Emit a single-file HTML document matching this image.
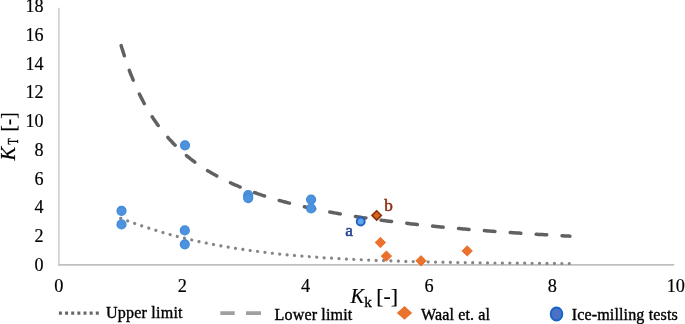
<!DOCTYPE html>
<html><head><meta charset="utf-8"><title>Chart</title>
<style>
html,body{margin:0;padding:0;background:#fff;}
svg{display:block;font-family:"Liberation Serif", serif;}
text{fill:#000;stroke:#000;stroke-width:0.18px;}
.lg text{stroke-width:0.36px;}
</style></head><body>
<svg width="685" height="324" viewBox="0 0 685 324">
<rect width="685" height="324" fill="#fff"/>
<!-- axes -->
<path d="M58.9,7.8 V265.8" fill="none" stroke="#b8b8b8" stroke-width="1.1"/>
<path d="M58.4,264.9 H674.3" fill="none" stroke="#c0c0c0" stroke-width="1.8"/>

<g font-size="18.1" text-anchor="end">
<text x="43.6" y="270.6">0</text>
<text x="43.6" y="241.9">2</text>
<text x="43.6" y="213.2">4</text>
<text x="43.6" y="184.5">6</text>
<text x="43.6" y="155.8">8</text>
<text x="43.6" y="127.1">10</text>
<text x="43.6" y="98.4">12</text>
<text x="43.6" y="69.7">14</text>
<text x="43.6" y="41.0">16</text>
<text x="43.6" y="12.3">18</text>
</g>
<g font-size="18.3" text-anchor="middle">
<text x="58.8" y="291.6">0</text>
<text x="182.2" y="291.6">2</text>
<text x="305.6" y="291.6">4</text>
<text x="429.0" y="291.6">6</text>
<text x="552.4" y="291.6">8</text>
<text x="675.8" y="291.6">10</text>
</g>
<text font-size="20.5" x="350.4" y="302.6" font-style="italic">K</text>
<text font-size="15" x="364.2" y="306.6" style="stroke-width:0.35px">k</text>
<text font-size="21.8" x="376.2" y="303.0">[-]</text>
<g transform="translate(0,0)">
<text font-size="20.5" transform="translate(14.9,160.4) rotate(-90)" font-style="italic">K</text>
<text font-size="15.2" transform="translate(18.3,144.6) rotate(-90) scale(0.66,1)" style="stroke-width:0.4px">T</text>
<text font-size="21.8" transform="translate(15.1,131.6) rotate(-90) scale(0.89,1)">[-]</text>
</g>
<path d="M120.7,218.3 L122.2,218.9 L123.7,219.5 L125.2,220.0 L126.7,220.6 L128.2,221.1 L129.7,221.7 L131.2,222.2 L132.8,222.8 L134.3,223.3 L135.8,223.8 L137.3,224.3 L138.8,224.9 L140.3,225.4 L141.8,225.9 L143.3,226.4 L144.8,226.9 L146.3,227.4 L147.8,227.9 L149.3,228.3 L150.8,228.8 L152.3,229.3 L153.8,229.8 L155.3,230.2 L156.9,230.7 L158.4,231.1 L159.9,231.6 L161.4,232.0 L162.9,232.5 L164.4,232.9 L165.9,233.3 L167.4,233.7 L168.9,234.2 L170.4,234.6 L171.9,235.0 L173.4,235.4 L174.9,235.8 L176.4,236.2 L177.9,236.6 L179.4,237.0 L181.0,237.3 L182.5,237.7 L184.0,238.1 L185.5,238.5 L187.0,238.8 L188.5,239.2 L190.0,239.5 L191.5,239.9 L193.0,240.2 L194.5,240.6 L196.0,240.9 L197.5,241.2 L199.0,241.6 L200.5,241.9 L202.0,242.2 L203.6,242.5 L205.1,242.8 L206.6,243.1 L208.1,243.5 L209.6,243.8 L211.1,244.0 L212.6,244.3 L214.1,244.6 L215.6,244.9 L217.1,245.2 L218.6,245.5 L220.1,245.7 L221.6,246.0 L223.1,246.3 L224.6,246.5 L226.1,246.8 L227.7,247.1 L229.2,247.3 L230.7,247.6 L232.2,247.8 L233.7,248.1 L235.2,248.3 L236.7,248.5 L238.2,248.8 L239.7,249.0 L241.2,249.2 L242.7,249.4 L244.2,249.7 L245.7,249.9 L247.2,250.1 L248.7,250.3 L250.2,250.5 L251.8,250.7 L253.3,250.9 L254.8,251.1 L256.3,251.3 L257.8,251.5 L259.3,251.7 L260.8,251.9 L262.3,252.1 L263.8,252.3 L265.3,252.4 L266.8,252.6 L268.3,252.8 L269.8,253.0 L271.3,253.1 L272.8,253.3 L274.4,253.5 L275.9,253.6 L277.4,253.8 L278.9,254.0 L280.4,254.1 L281.9,254.3 L283.4,254.4 L284.9,254.6 L286.4,254.7 L287.9,254.9 L289.4,255.0 L290.9,255.2 L292.4,255.3 L293.9,255.4 L295.4,255.6 L296.9,255.7 L298.5,255.8 L300.0,256.0 L301.5,256.1 L303.0,256.2 L304.5,256.3 L306.0,256.5 L307.5,256.6 L309.0,256.7 L310.5,256.8 L312.0,256.9 L313.5,257.0 L315.0,257.1 L316.5,257.2 L318.0,257.4 L319.5,257.5 L321.0,257.6 L322.6,257.7 L324.1,257.8 L325.6,257.9 L327.1,258.0 L328.6,258.1 L330.1,258.1 L331.6,258.2 L333.1,258.3 L334.6,258.4 L336.1,258.5 L337.6,258.6 L339.1,258.7 L340.6,258.8 L342.1,258.8 L343.6,258.9 L345.2,259.0 L346.7,259.1 L348.2,259.2 L349.7,259.2 L351.2,259.3 L352.7,259.4 L354.2,259.5 L355.7,259.5 L357.2,259.6 L358.7,259.7 L360.2,259.7 L361.7,259.8 L363.2,259.9 L364.7,259.9 L366.2,260.0 L367.7,260.1 L369.3,260.1 L370.8,260.2 L372.3,260.2 L373.8,260.3 L375.3,260.4 L376.8,260.4 L378.3,260.5 L379.8,260.5 L381.3,260.6 L382.8,260.6 L384.3,260.7 L385.8,260.8 L387.3,260.8 L388.8,260.9 L390.3,260.9 L391.8,261.0 L393.4,261.0 L394.9,261.0 L396.4,261.1 L397.9,261.1 L399.4,261.2 L400.9,261.2 L402.4,261.3 L403.9,261.3 L405.4,261.4 L406.9,261.4 L408.4,261.4 L409.9,261.5 L411.4,261.5 L412.9,261.6 L414.4,261.6 L416.0,261.6 L417.5,261.7 L419.0,261.7 L420.5,261.8 L422.0,261.8 L423.5,261.8 L425.0,261.9 L426.5,261.9 L428.0,261.9 L429.5,262.0 L431.0,262.0 L432.5,262.0 L434.0,262.1 L435.5,262.1 L437.0,262.1 L438.5,262.1 L440.1,262.2 L441.6,262.2 L443.1,262.2 L444.6,262.3 L446.1,262.3 L447.6,262.3 L449.1,262.3 L450.6,262.4 L452.1,262.4 L453.6,262.4 L455.1,262.4 L456.6,262.5 L458.1,262.5 L459.6,262.5 L461.1,262.5 L462.7,262.6 L464.2,262.6 L465.7,262.6 L467.2,262.6 L468.7,262.7 L470.2,262.7 L471.7,262.7 L473.2,262.7 L474.7,262.7 L476.2,262.8 L477.7,262.8 L479.2,262.8 L480.7,262.8 L482.2,262.8 L483.7,262.9 L485.2,262.9 L486.8,262.9 L488.3,262.9 L489.8,262.9 L491.3,262.9 L492.8,263.0 L494.3,263.0 L495.8,263.0 L497.3,263.0 L498.8,263.0 L500.3,263.0 L501.8,263.0 L503.3,263.1 L504.8,263.1 L506.3,263.1 L507.8,263.1 L509.3,263.1 L510.9,263.1 L512.4,263.1 L513.9,263.2 L515.4,263.2 L516.9,263.2 L518.4,263.2 L519.9,263.2 L521.4,263.2 L522.9,263.2 L524.4,263.2 L525.9,263.3 L527.4,263.3 L528.9,263.3 L530.4,263.3 L531.9,263.3 L533.5,263.3 L535.0,263.3 L536.5,263.3 L538.0,263.3 L539.5,263.3 L541.0,263.4 L542.5,263.4 L544.0,263.4 L545.5,263.4 L547.0,263.4 L548.5,263.4 L550.0,263.4 L551.5,263.4 L553.0,263.4 L554.5,263.4 L556.0,263.4 L557.6,263.4 L559.1,263.4 L560.6,263.5 L562.1,263.5 L563.6,263.5 L565.1,263.5 L566.6,263.5 L568.1,263.5 L569.6,263.5 L571.1,263.5" fill="none" stroke="#858585" stroke-width="3.2" stroke-linecap="round" stroke-dasharray="0.01 7.424"/>
<path d="M120.7,44.0 L121.8,47.8 L123.0,51.5 L124.1,55.1 L125.2,58.6 L126.3,61.9 L127.5,65.2 L128.6,68.3 L129.7,71.3 L130.8,74.3 L132.0,77.1 L133.1,79.9 L134.2,82.6 L135.3,85.2 L136.5,87.7 L137.6,90.2 L138.7,92.6 L139.8,94.9 L141.0,97.2 L142.1,99.4 L143.2,101.5 L144.3,103.6 L145.5,105.6 L146.6,107.6 L147.7,109.5 L148.8,111.4 L150.0,113.3 L151.1,115.1 L152.2,116.8 L153.3,118.5 L154.5,120.2 L155.6,121.8 L156.7,123.4 L157.8,125.0 L159.0,126.5 L160.1,128.0 L161.2,129.5 L162.4,130.9 L163.5,132.3 L164.6,133.7 L165.7,135.0 L166.9,136.3 L168.0,137.6 L169.1,138.9 L170.2,140.1 L171.4,141.3 L172.5,142.5 L173.6,143.7 L174.7,144.8 L175.9,145.9 L177.0,147.0 L178.1,148.1 L179.2,149.2 L180.4,150.2 L181.5,151.2 L182.6,152.2 L183.7,153.2 L184.9,154.2 L186.0,155.1 L187.1,156.1 L188.2,157.0 L189.4,157.9 L190.5,158.8 L191.6,159.6 L192.7,160.5 L193.9,161.3 L195.0,162.2 L196.1,163.0 L197.3,163.8 L198.4,164.6 L199.5,165.4 L200.6,166.1 L201.8,166.9 L202.9,167.6 L204.0,168.3 L205.1,169.1 L206.3,169.8 L207.4,170.5 L208.5,171.2 L209.6,171.8 L210.8,172.5 L211.9,173.2 L213.0,173.8 L214.1,174.4 L215.3,175.1 L216.4,175.7 L217.5,176.3 L218.6,176.9 L219.8,177.5 L220.9,178.1 L222.0,178.7 L223.1,179.2 L224.3,179.8 L225.4,180.4 L226.5,180.9 L227.6,181.5 L228.8,182.0 L229.9,182.5 L231.0,183.0 L232.1,183.6 L233.3,184.1 L234.4,184.6 L235.5,185.1 L236.7,185.5 L237.8,186.0 L238.9,186.5 L240.0,187.0 L241.2,187.4 L242.3,187.9 L243.4,188.4 L244.5,188.8 L245.7,189.2 L246.8,189.7 L247.9,190.1 L249.0,190.5 L250.2,191.0 L251.3,191.4 L252.4,191.8 L253.5,192.2 L254.7,192.6 L255.8,193.0 L256.9,193.4 L258.0,193.8 L259.2,194.2 L260.3,194.6 L261.4,194.9 L262.5,195.3 L263.7,195.7 L264.8,196.1 L265.9,196.4 L267.0,196.8 L268.2,197.1 L269.3,197.5 L270.4,197.8 L271.6,198.2 L272.7,198.5 L273.8,198.8 L274.9,199.2 L276.1,199.5 L277.2,199.8 L278.3,200.1 L279.4,200.5 L280.6,200.8 L281.7,201.1 L282.8,201.4 L283.9,201.7 L285.1,202.0 L286.2,202.3 L287.3,202.6 L288.4,202.9 L289.6,203.2 L290.7,203.5 L291.8,203.8 L292.9,204.1 L294.1,204.3 L295.2,204.6 L296.3,204.9 L297.4,205.2 L298.6,205.4 L299.7,205.7 L300.8,206.0 L301.9,206.2 L303.1,206.5 L304.2,206.8 L305.3,207.0 L306.4,207.3 L307.6,207.5 L308.7,207.8 L309.8,208.0 L311.0,208.3 L312.1,208.5 L313.2,208.7 L314.3,209.0 L315.5,209.2 L316.6,209.4 L317.7,209.7 L318.8,209.9 L320.0,210.1 L321.1,210.4 L322.2,210.6 L323.3,210.8 L324.5,211.0 L325.6,211.3 L326.7,211.5 L327.8,211.7 L329.0,211.9 L330.1,212.1 L331.2,212.3 L332.3,212.5 L333.5,212.7 L334.6,212.9 L335.7,213.1 L336.8,213.3 L338.0,213.5 L339.1,213.7 L340.2,213.9 L341.3,214.1 L342.5,214.3 L343.6,214.5 L344.7,214.7 L345.9,214.9 L347.0,215.1 L348.1,215.3 L349.2,215.5 L350.4,215.6 L351.5,215.8 L352.6,216.0 L353.7,216.2 L354.9,216.4 L356.0,216.5 L357.1,216.7 L358.2,216.9 L359.4,217.1 L360.5,217.2 L361.6,217.4 L362.7,217.6 L363.9,217.8 L365.0,217.9 L366.1,218.1 L367.2,218.2 L368.4,218.4 L369.5,218.6 L370.6,218.7 L371.7,218.9 L372.9,219.1 L374.0,219.2 L375.1,219.4 L376.2,219.5 L377.4,219.7 L378.5,219.8 L379.6,220.0 L380.7,220.1 L381.9,220.3 L383.0,220.4 L384.1,220.6 L385.3,220.7 L386.4,220.9 L387.5,221.0 L388.6,221.2 L389.8,221.3 L390.9,221.4 L392.0,221.6 L393.1,221.7 L394.3,221.9 L395.4,222.0 L396.5,222.1 L397.6,222.3 L398.8,222.4 L399.9,222.5 L401.0,222.7 L402.1,222.8 L403.3,222.9 L404.4,223.1 L405.5,223.2 L406.6,223.3 L407.8,223.5 L408.9,223.6 L410.0,223.7 L411.1,223.9 L412.3,224.0 L413.4,224.1 L414.5,224.2 L415.6,224.3 L416.8,224.5 L417.9,224.6 L419.0,224.7 L420.2,224.8 L421.3,225.0 L422.4,225.1 L423.5,225.2 L424.7,225.3 L425.8,225.4 L426.9,225.5 L428.0,225.7 L429.2,225.8 L430.3,225.9 L431.4,226.0 L432.5,226.1 L433.7,226.2 L434.8,226.3 L435.9,226.4 L437.0,226.6 L438.2,226.7 L439.3,226.8 L440.4,226.9 L441.5,227.0 L442.7,227.1 L443.8,227.2 L444.9,227.3 L446.0,227.4 L447.2,227.5 L448.3,227.6 L449.4,227.7 L450.5,227.8 L451.7,227.9 L452.8,228.0 L453.9,228.1 L455.0,228.2 L456.2,228.3 L457.3,228.4 L458.4,228.5 L459.6,228.6 L460.7,228.7 L461.8,228.8 L462.9,228.9 L464.1,229.0 L465.2,229.1 L466.3,229.2 L467.4,229.3 L468.6,229.4 L469.7,229.5 L470.8,229.6 L471.9,229.7 L473.1,229.8 L474.2,229.8 L475.3,229.9 L476.4,230.0 L477.6,230.1 L478.7,230.2 L479.8,230.3 L480.9,230.4 L482.1,230.5 L483.2,230.6 L484.3,230.6 L485.4,230.7 L486.6,230.8 L487.7,230.9 L488.8,231.0 L489.9,231.1 L491.1,231.2 L492.2,231.2 L493.3,231.3 L494.5,231.4 L495.6,231.5 L496.7,231.6 L497.8,231.7 L499.0,231.7 L500.1,231.8 L501.2,231.9 L502.3,232.0 L503.5,232.1 L504.6,232.1 L505.7,232.2 L506.8,232.3 L508.0,232.4 L509.1,232.5 L510.2,232.5 L511.3,232.6 L512.5,232.7 L513.6,232.8 L514.7,232.8 L515.8,232.9 L517.0,233.0 L518.1,233.1 L519.2,233.1 L520.3,233.2 L521.5,233.3 L522.6,233.4 L523.7,233.4 L524.8,233.5 L526.0,233.6 L527.1,233.7 L528.2,233.7 L529.3,233.8 L530.5,233.9 L531.6,233.9 L532.7,234.0 L533.9,234.1 L535.0,234.1 L536.1,234.2 L537.2,234.3 L538.4,234.4 L539.5,234.4 L540.6,234.5 L541.7,234.6 L542.9,234.6 L544.0,234.7 L545.1,234.8 L546.2,234.8 L547.4,234.9 L548.5,235.0 L549.6,235.0 L550.7,235.1 L551.9,235.2 L553.0,235.2 L554.1,235.3 L555.2,235.3 L556.4,235.4 L557.5,235.5 L558.6,235.5 L559.7,235.6 L560.9,235.7 L562.0,235.7 L563.1,235.8 L564.2,235.9 L565.4,235.9 L566.5,236.0 L567.6,236.0 L568.8,236.1 L569.9,236.2" fill="none" stroke="#616161" stroke-width="3.5" stroke-linecap="round" stroke-dasharray="10.6 15.37" stroke-dashoffset="-1.7"/>
<g fill="#4d92dd" stroke="#418ad9" stroke-width="1.2">
<circle cx="121.5" cy="210.8" r="4.5"/>
<circle cx="121.5" cy="224.4" r="4.5"/>
<circle cx="184.8" cy="230.4" r="4.5"/>
<circle cx="184.8" cy="244.3" r="4.5"/>
<circle cx="185" cy="145.3" r="4.5"/>
<circle cx="248.2" cy="195.2" r="4.5"/>
<circle cx="248.2" cy="198.1" r="4.5"/>
<circle cx="311.1" cy="199.6" r="4.5"/>
<circle cx="311.1" cy="208.5" r="4.5"/>
</g>
<g fill="#eb722c" stroke="#e5621c" stroke-width="0.8">
<path d="M375.2,242.5 L380.4,237.3 L385.6,242.5 L380.4,247.7 Z" />
<path d="M381.2,256.1 L386.4,250.9 L391.6,256.1 L386.4,261.3 Z" />
<path d="M415.8,260.8 L421.0,255.6 L426.2,260.8 L421.0,266.0 Z" />
<path d="M462.0,250.9 L467.2,245.7 L472.4,250.9 L467.2,256.1 Z" />
</g>
<circle cx="360.7" cy="221.5" r="4.0" fill="#5fa6ec" stroke="#2160c2" stroke-width="1.9"/>
<path d="M372.0,215.4 L376.7,210.7 L381.4,215.4 L376.7,220.1 Z" fill="#d9641a" stroke="#8a2c0a" stroke-width="1.5" stroke-linejoin="miter"/>
<text x="345.3" y="235.7" font-size="17.2" style="fill:#1f3d8f;stroke:#1f3d8f;stroke-width:0.5px">a</text>
<text x="384.3" y="211.3" font-size="17.2" style="fill:#8b2a0a;stroke:#8b2a0a;stroke-width:0.5px">b</text>
<path d="M58.9,313.1 H99.2" fill="none" stroke="#686868" stroke-width="3.2" stroke-dasharray="3 3.15"/>
<path d="M220.3,313.1 H234.7 M246,313.1 H261" fill="none" stroke="#a0a0a0" stroke-width="3.6"/>
<path d="M396.8,312.9 L404.5,306.1 L412.2,312.9 L404.5,319.7 Z" fill="#eb722c"/>
<ellipse cx="556.5" cy="314" rx="5.85" ry="6.5" fill="#4c70c8" stroke="#1565c8" stroke-width="1.8"/>
<g class="lg" font-size="16.1" letter-spacing="0.12">
<text x="105.9" y="318.3" letter-spacing="0.2">Upper limit</text>
<text x="274.6" y="319.8">Lower limit</text>
<text x="420.9" y="319.6">Waal et. al</text>
<text x="571.7" y="319.6">Ice-milling tests</text>
</g>
</svg></body></html>
